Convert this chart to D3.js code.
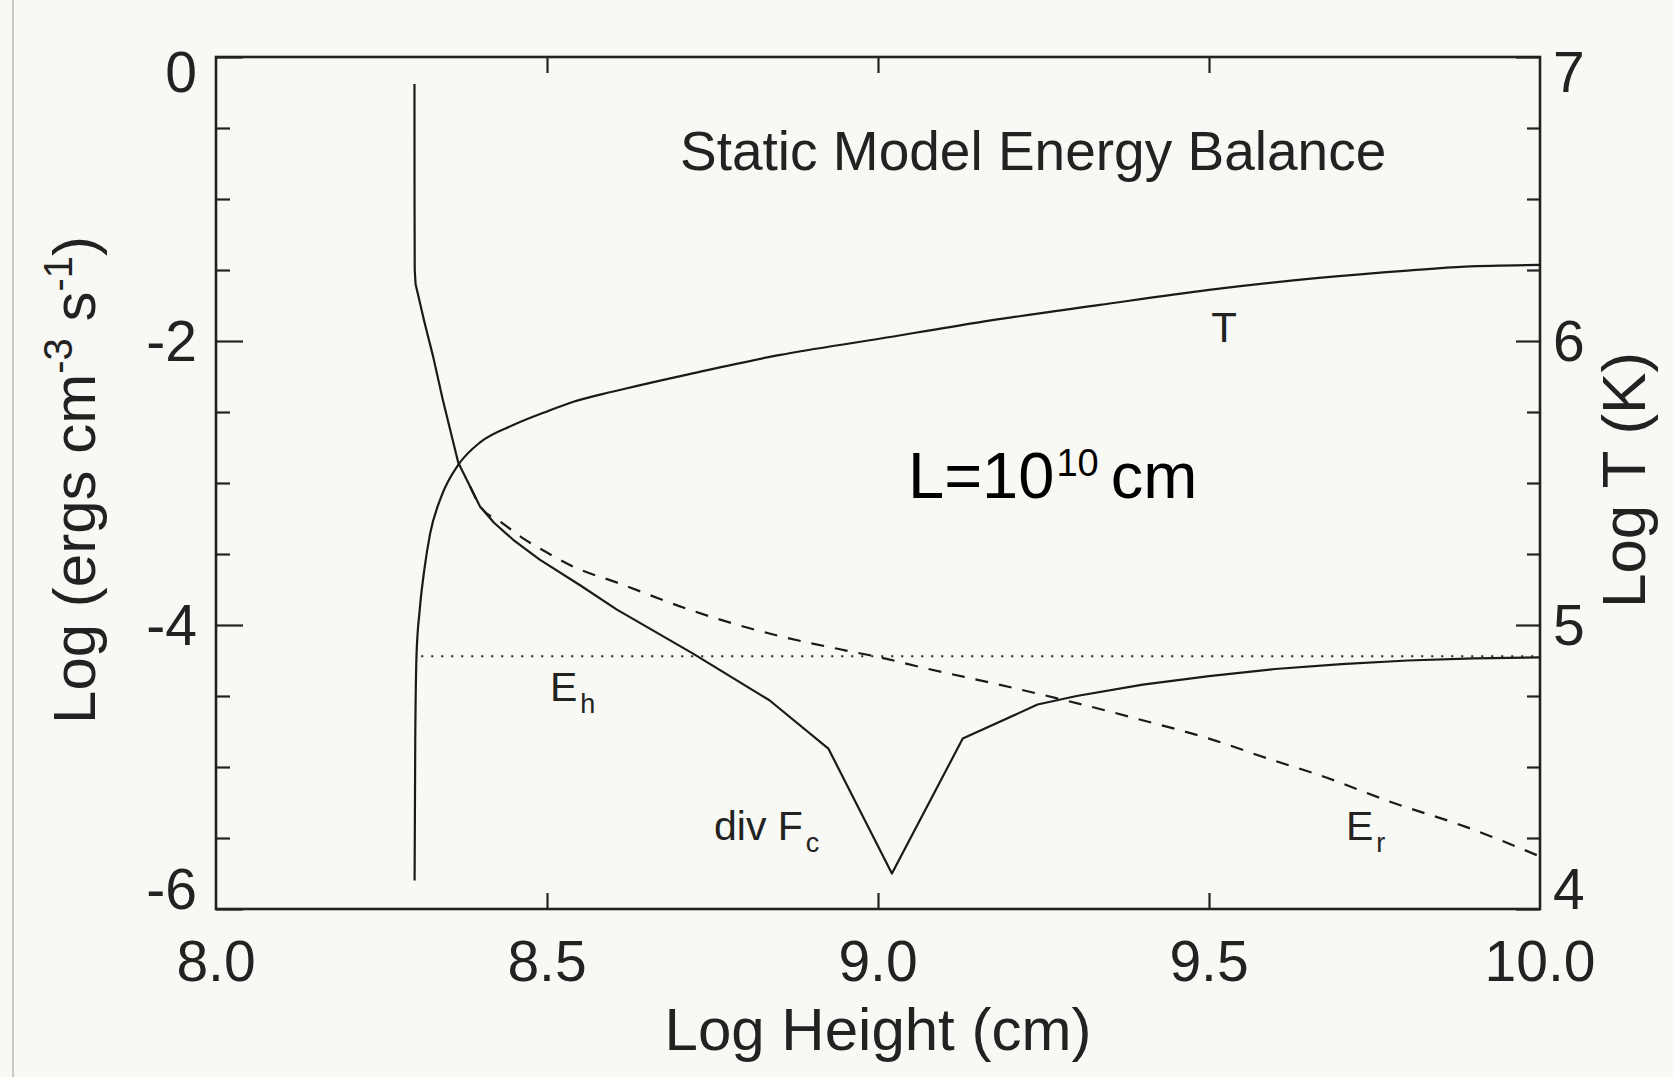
<!DOCTYPE html>
<html>
<head>
<meta charset="utf-8">
<script src="https://cdn.jsdelivr.net/npm/d3@7"></script>
<style>
  html, body { margin: 0; padding: 0; background: #f8f8f4; }
  svg { display: block; }
  text { font-family: "Liberation Sans", Arial, Helvetica, sans-serif; fill: #222; }
</style>
</head>
<body>
<svg id="chart" width="1673" height="1077"></svg>
<script>
// Axis ticks
const heightTicks = [8.0, 8.5, 9.0, 9.5, 10.0];
const heightTickLabels = ["8.0", "8.5", "9.0", "9.5", "10.0"];
const energyTicks = [0, -2, -4, -6];
const energyMinorTicks = [-0.5, -1, -1.5, -2.5, -3, -3.5, -4.5, -5, -5.5];
const tempTicks = [4, 5, 6, 7];
const tempMinorTicks = [4.25, 4.5, 4.75, 5.25, 5.5, 5.75, 6.25, 6.5, 6.75];

// Temperature profile: [log height, log T]
const temperature = [
  [8.300, 4.10], [8.301, 4.60], [8.303, 4.90], [8.3076, 5.05], [8.315, 5.20],
  [8.3233, 5.32], [8.340, 5.45], [8.367, 5.567], [8.40, 5.645], [8.449, 5.704],
  [8.50, 5.752], [8.54, 5.786], [8.60, 5.822], [8.72, 5.886], [8.85, 5.95],
  [9.0, 6.007], [9.15, 6.065], [9.335, 6.127], [9.5, 6.18], [9.666, 6.222],
  [9.8, 6.248], [9.887, 6.262], [10.0, 6.268]
];

// Conductive flux divergence: [log height, log energy]
const condDivergence = [
  [8.2998, -0.19], [8.2999, -1.0], [8.3002, -1.50], [8.3015, -1.60], [8.3055, -1.68],
  [8.315, -1.87], [8.328, -2.11], [8.3427, -2.415], [8.366, -2.857], [8.384, -3.026],
  [8.399, -3.167], [8.42, -3.28], [8.449, -3.40], [8.489, -3.54], [8.55, -3.72],
  [8.605, -3.89], [8.72, -4.20], [8.836, -4.53], [8.925, -4.87], [9.021, -5.75],
  [9.128, -4.80], [9.241, -4.56], [9.30, -4.50], [9.40, -4.42], [9.50, -4.36],
  [9.60, -4.31], [9.70, -4.275], [9.80, -4.25], [9.90, -4.235], [10.0, -4.228]
];

// Radiative losses: [log height, log energy]
const radiativeLoss = [
  [8.384, -3.026], [8.40, -3.17], [8.429, -3.27], [8.464, -3.39], [8.50, -3.49],
  [8.54, -3.59], [8.605, -3.70], [8.72, -3.90], [8.836, -4.06], [8.952, -4.18],
  [9.0, -4.225], [9.067, -4.30], [9.183, -4.42], [9.287, -4.535], [9.391, -4.66],
  [9.5, -4.80], [9.595, -4.95], [9.666, -5.056], [9.777, -5.25], [9.887, -5.42],
  [10.0, -5.63]
];

// Uniform heating rate
const heating = [[8.31, -4.22], [10.0, -4.22]];

const svg = d3.select("#chart");

// scan edge on the left margin
svg.append("line").attr("x1", 13).attr("x2", 13).attr("y1", 0).attr("y2", 1077)
  .attr("stroke", "#cbcbc6").attr("stroke-width", 2);

const x = d3.scaleLinear().domain([8, 10]).range([216, 1540]);
const yE = d3.scaleLinear().domain([-6, 0]).range([909, 57]);
const yT = d3.scaleLinear().domain([4, 7]).range([909, 57]);

const inner = heightTicks.filter(v => v > 8 && v < 10);

// Ticks (drawn inward)
function tickGroup(axis, tx, ty) {
  const g = svg.append("g").attr("transform", `translate(${tx},${ty})`).call(axis);
  g.select(".domain").remove();
  g.selectAll("line").attr("stroke", "#222").attr("stroke-width", 2.2);
  g.selectAll("text").remove();
  return g;
}
tickGroup(d3.axisBottom(x).tickValues(inner).tickSize(-16).tickFormat(""), 0, 909);
tickGroup(d3.axisTop(x).tickValues(inner).tickSize(-16).tickFormat(""), 0, 57);
tickGroup(d3.axisLeft(yE).tickValues(energyTicks).tickSize(-27).tickFormat(""), 216, 0);
tickGroup(d3.axisLeft(yE).tickValues(energyMinorTicks).tickSize(-14).tickFormat(""), 216, 0);
tickGroup(d3.axisRight(yT).tickValues(tempTicks).tickSize(-24).tickFormat(""), 1540, 0);
tickGroup(d3.axisRight(yT).tickValues(tempMinorTicks).tickSize(-13).tickFormat(""), 1540, 0);

// Frame
svg.append("rect").attr("x", x(8)).attr("y", yE(0))
  .attr("width", x(10) - x(8)).attr("height", yE(-6) - yE(0))
  .attr("fill", "none").attr("stroke", "#222").attr("stroke-width", 2.6);

// Tick labels (end labels kept inside the frame height)
function vOffset(py) {
  if (Math.abs(py - 57) < 1) return 35;
  if (Math.abs(py - 909) < 1) return 0;
  return 20;
}
svg.append("g").selectAll("text").data(energyTicks).join("text")
  .attr("x", 197).attr("y", d => yE(d) + vOffset(yE(d)))
  .attr("text-anchor", "end").attr("font-size", 57)
  .text(d => d === 0 ? "0" : String(d));
svg.append("g").selectAll("text").data(tempTicks).join("text")
  .attr("x", 1553).attr("y", d => yT(d) + vOffset(yT(d)))
  .attr("text-anchor", "start").attr("font-size", 57)
  .text(d => String(d));
svg.append("g").selectAll("text").data(heightTicks).join("text")
  .attr("x", d => x(d)).attr("y", 981)
  .attr("text-anchor", "middle").attr("font-size", 57)
  .text((d, i) => heightTickLabels[i]);

// Axis titles
svg.append("text").attr("x", x(9)).attr("y", 1050)
  .attr("text-anchor", "middle").attr("font-size", 60).text("Log Height (cm)");

const lt = svg.append("text").attr("transform", "translate(95,480) rotate(-90)")
  .attr("text-anchor", "middle").attr("font-size", 60);
lt.append("tspan").text("Log (ergs cm");
lt.append("tspan").attr("font-size", 40).attr("dy", -23).text("-3");
lt.append("tspan").attr("dy", 23).text(" s");
lt.append("tspan").attr("font-size", 40).attr("dy", -23).text("-1");
lt.append("tspan").attr("dy", 23).text(")");

svg.append("text").attr("transform", "translate(1645,480) rotate(-90)")
  .attr("text-anchor", "middle").attr("font-size", 62).text("Log T (K)");

// Title
svg.append("text").attr("x", 680).attr("y", 170).attr("font-size", 55)
  .text("Static Model Energy Balance");

// Curves
const lineE = d3.line().x(d => x(d[0])).y(d => yE(d[1]));
const lineT = d3.line().x(d => x(d[0])).y(d => yT(d[1])).curve(d3.curveMonotoneX);
const lineR = d3.line().x(d => x(d[0])).y(d => yE(d[1])).curve(d3.curveMonotoneX);

svg.append("path").datum(heating).attr("d", lineE)
  .attr("fill", "none").attr("stroke", "#222").attr("stroke-width", 2)
  .attr("stroke-dasharray", "2,8");
svg.append("path").datum(temperature).attr("d", lineT)
  .attr("fill", "none").attr("stroke", "#1a1a1a").attr("stroke-width", 2.2);
svg.append("path").datum(condDivergence).attr("d", lineE)
  .attr("fill", "none").attr("stroke", "#1a1a1a").attr("stroke-width", 2.2)
  .attr("stroke-linejoin", "round");
svg.append("path").datum(radiativeLoss).attr("d", lineR)
  .attr("fill", "none").attr("stroke", "#1a1a1a").attr("stroke-width", 2.2)
  .attr("stroke-dasharray", "13,11");

// Curve labels
svg.append("text").attr("x", 1224).attr("y", 342).attr("text-anchor", "middle")
  .attr("font-size", 42).text("T");

function subLabel(px, py, main, sub) {
  const t = svg.append("text").attr("x", px).attr("y", py).attr("font-size", 41);
  t.append("tspan").text(main);
  t.append("tspan").attr("font-size", 27).attr("dx", 3).attr("dy", 12).text(sub);
}
subLabel(550, 701, "E", "h");
subLabel(714, 840, "div F", "c");
subLabel(1346, 840, "E", "r");

// Loop length annotation
const ann = svg.append("text").attr("x", 908).attr("y", 498).attr("font-size", 65)
  .style("fill", "#000");
ann.append("tspan").text("L=10");
ann.append("tspan").attr("font-size", 38).attr("dx", 2).attr("dy", -22).text("10");
ann.append("tspan").attr("dx", 12).attr("dy", 22).text("cm");
</script>
</body>
</html>
